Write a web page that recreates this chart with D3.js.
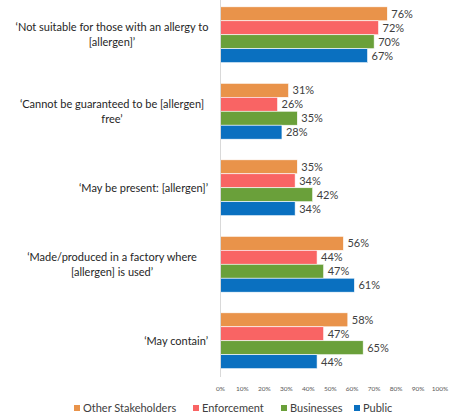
<!DOCTYPE html>
<html>
<head>
<meta charset="utf-8">
<script src="https://cdn.jsdelivr.net/npm/d3@7"></script>
<style>
  body { margin: 0; background: #fff; }
  text { font-family: Lato, "Open Sans", sans-serif; }
</style>
</head>
<body>
<svg id="chart"></svg>
<script>
const width = 452
const height = 417

const categories = [
    ["‘Not suitable for those with an allergy to", "[allergen]’"],
    ["‘Cannot be guaranteed to be [allergen]", "free’"],
    ["‘May be present: [allergen]’"],
    ["‘Made/produced in a factory where", "[allergen] is used’"],
    ["‘May contain’"]
]
const keys = ["Other Stakeholders", "Enforcement", "Businesses", "Public"]
const colorRange = ["#E9934A", "#F96464", "#6AA03A", "#0A70C0"]

const otherStakeholders = [76, 31, 35, 56, 58]
const enforcement = [72, 26, 34, 44, 47]
const businesses = [70, 35, 42, 47, 65]
const publicVals = [67, 28, 34, 61, 44]
const ticks = [0, 10, 20, 30, 40, 50, 60, 70, 80, 90, 100]

const series = [otherStakeholders, enforcement, businesses, publicVals]
const data = categories.map((c, i) => ({
    idx: i,
    lines: c,
    values: keys.map((k, j) => ({key: k, value: series[j][i]}))
}))

const color = d3.scaleOrdinal()
    .domain(keys)
    .range(colorRange)

const xScale = d3.scaleLinear()
    .domain([0, 100])
    .range([220.5, 440])

const yScale = d3.scaleBand()
    .domain(data.map(d => d.idx))
    .range([-3.5, 379])
    .paddingInner(0.27)
    .paddingOuter(0.135)

const ySub = d3.scaleBand()
    .domain(keys)
    .range([0, yScale.bandwidth()])

const svg = d3.select("#chart")
    .attr("width", width)
    .attr("height", height)

const groups = svg.selectAll(".grp")
    .data(data)
    .enter()
    .append("g")
        .attr("class", "grp")
        .attr("transform", d => `translate(0, ${yScale(d.idx)})`)

groups.selectAll("rect")
    .data(d => d.values)
    .enter()
    .append("rect")
        .attr("x", xScale(0))
        .attr("y", d => ySub(d.key))
        .attr("width", d => xScale(d.value) - xScale(0))
        .attr("height", ySub.bandwidth())
        .style("fill", d => color(d.key))
        .style("stroke", "#fff")
        .style("stroke-width", 0.6)

groups.selectAll(".val")
    .data(d => d.values)
    .enter()
    .append("text")
        .attr("class", "val")
        .attr("x", d => xScale(d.value) + 4)
        .attr("y", d => ySub(d.key) + ySub.bandwidth() / 2)
        .attr("dy", "0.35em")
        .style("font-size", "11px")
        .style("fill", "#404040")
        .text(d => d.value + "%")

// category labels, centered multi-line like the original
groups.each(function(d) {
    const g = d3.select(this)
    const mid = yScale.bandwidth() / 2
    const lh = 15
    const n = d.lines.length
    g.selectAll(".cat")
        .data(d.lines)
        .enter()
        .append("text")
            .attr("class", "cat")
            .attr("x", n > 1 ? 112 : 208)
            .attr("text-anchor", n > 1 ? "middle" : "end")
            .attr("y", (l, i) => mid + (i - (n - 1) / 2) * lh)
            .attr("dy", "0.35em")
            .style("font-size", "11px")
            .style("fill", "#262626")
            .text(l => l)
})

// axis
const axisY = yScale.range()[1]
svg.append("line")
    .attr("x1", xScale(0))
    .attr("x2", xScale(0))
    .attr("y1", 0)
    .attr("y2", axisY - 2)
    .style("stroke", "#d9d9d9")
    .style("stroke-width", 1)

svg.selectAll(".tick")
    .data(ticks)
    .enter()
    .append("text")
        .attr("class", "tick")
        .attr("x", d => xScale(d))
        .attr("y", 389)
        .attr("dy", "0.35em")
        .attr("text-anchor", "middle")
        .style("font-size", "6.5px")
        .style("fill", "#595959")
        .text(d => d + "%")

// legend
const legendX = [74, 193, 281, 354]
const legend = svg.selectAll(".leg")
    .data(keys)
    .enter()
    .append("g")
        .attr("class", "leg")
        .attr("transform", (d, i) => `translate(${legendX[i]}, 408)`)

legend.append("rect")
    .attr("x", 0)
    .attr("y", -3)
    .attr("width", 6)
    .attr("height", 6)
    .style("fill", d => color(d))

legend.append("text")
    .attr("x", 9)
    .attr("y", 0)
    .attr("dy", "0.35em")
    .style("font-size", "11px")
    .style("fill", "#404040")
    .text(d => d)
</script>
</body>
</html>
